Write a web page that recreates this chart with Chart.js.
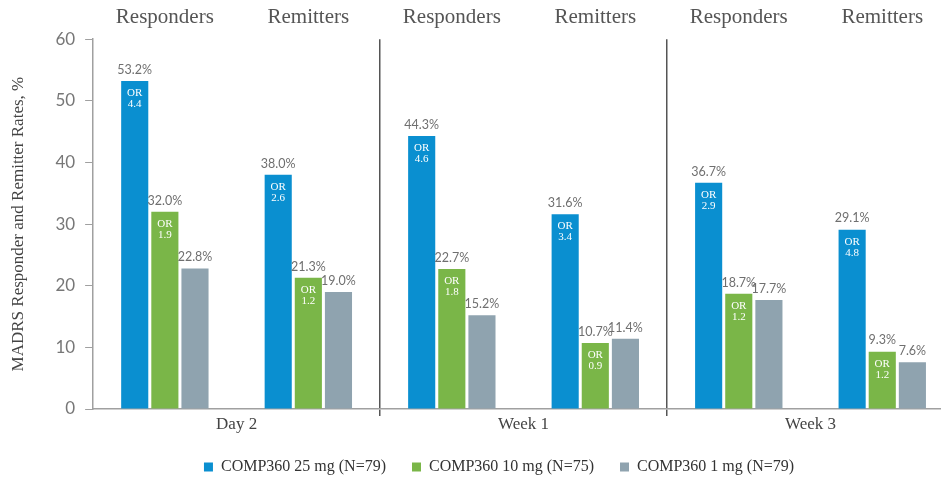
<!DOCTYPE html>
<html lang="en">
<head>
    <meta charset="UTF-8" />
    <title>MADRS Responder and Remitter Rates</title>
    <script src="https://cdn.jsdelivr.net/npm/chart.js"></script>
    <style>
        html, body { margin: 0; padding: 0; background: #fff; overflow: hidden; }
    </style>
</head>
<body>
    <canvas id="madrsChart" width="960" height="479"></canvas>

    <script>
        const categories = ['Responders', 'Remitters', 'Responders', 'Remitters', 'Responders', 'Remitters'];
        const periods = ['Day 2', 'Week 1', 'Week 3'];
        const dose25 = [53.2, 38.0, 44.3, 31.6, 36.7, 29.1];
        const dose10 = [32.0, 21.3, 22.7, 10.7, 18.7, 9.3];
        const dose1 = [22.8, 19.0, 15.2, 11.4, 17.7, 7.6];
        // odds ratios printed inside the bars
        const or25 = ['4.4', '2.6', '4.6', '3.4', '2.9', '4.8'];
        const or10 = ['1.9', '1.2', '1.8', '0.9', '1.2', '1.2'];
        const yTicks = [0, 10, 20, 30, 40, 50, 60];

        const serif = '"Liberation Serif", "Times New Roman", serif';

        // percentage above each bar, "OR x.x" inside the top of the bar
        const barLabels = {
            id: 'barLabels',
            afterDatasetsDraw(chart) {
                const ctx = chart.ctx;
                ctx.save();
                ctx.textAlign = 'center';
                chart.data.datasets.forEach((ds, i) => {
                    chart.getDatasetMeta(i).data.forEach((bar, j) => {
                        ctx.fillStyle = '#6f6f6f';
                        ctx.font = '12.5px Lato';
                        ctx.textBaseline = 'bottom';
                        ctx.fillText(ds.data[j].toFixed(1) + '%', bar.x, bar.y - 5);
                        if (ds.oddsRatios) {
                            ctx.fillStyle = '#fff';
                            ctx.font = '11px ' + serif;
                            ctx.textBaseline = 'middle';
                            ctx.fillText('OR', bar.x, bar.y + 12);
                            ctx.fillText(ds.oddsRatios[j], bar.x, bar.y + 23);
                        }
                    });
                });
                ctx.restore();
            }
        };

        // legend sits a little right of the canvas centre in the original
        const legendShift = {
            id: 'legendShift',
            afterLayout(chart) {
                chart.legend.left += 22;
                chart.legend.right += 22;
            }
        };

        new Chart(document.getElementById('madrsChart'), {
            type: 'bar',
            data: {
                labels: categories,
                datasets: [
                    { label: 'COMP360 25 mg (N=79)', data: dose25, oddsRatios: or25, backgroundColor: '#0a8fd0' },
                    { label: 'COMP360 10 mg (N=75)', data: dose10, oddsRatios: or10, backgroundColor: '#7ab648' },
                    { label: 'COMP360 1 mg (N=79)', data: dose1, backgroundColor: '#8fa3af' }
                ]
            },
            options: {
                responsive: false,
                animation: false,
                layout: { padding: { top: -4, right: 6, bottom: -6, left: 0 } },
                datasets: { bar: { categoryPercentage: 0.63, barPercentage: 0.9 } },
                plugins: {
                    legend: {
                        position: 'bottom',
                        labels: {
                            boxWidth: 9,
                            boxHeight: 9,
                            padding: 26,
                            color: '#333',
                            font: { family: serif, size: 16 }
                        }
                    },
                    tooltip: { enabled: false }
                },
                scales: {
                    x: {
                        position: 'top',
                        grid: { display: false, drawTicks: false, tickLength: 0 },
                        border: { display: false },
                        ticks: { padding: 9, color: '#555', font: { family: serif, size: 21 } }
                    },
                    x2: {
                        type: 'category',
                        labels: periods,
                        position: 'bottom',
                        offset: true,
                        grid: {
                            offset: true,
                            tickLength: 7,
                            lineWidth: 1.5,
                            color: ctx => ctx.index === 0 ? 'rgba(0,0,0,0)' : '#555'
                        },
                        border: { color: '#a0a0a0', width: 1.5 },
                        ticks: { padding: 0, color: '#444', font: { family: serif, size: 17, lineHeight: 1 } }
                    },
                    y: {
                        min: 0,
                        max: 60,
                        afterBuildTicks: scale => { scale.ticks = yTicks.map(v => ({ value: v })); },
                        grid: { drawOnChartArea: false, tickLength: 8, color: '#a0a0a0' },
                        border: { color: '#a0a0a0', width: 1.5 },
                        ticks: { padding: 10, color: '#777', font: { family: 'Lato', size: 17 } },
                        title: {
                            display: true,
                            text: 'MADRS Responder and Remitter Rates, %',
                            color: '#444',
                            font: { family: serif, size: 17 },
                            padding: { top: 8, bottom: 17 }
                        }
                    }
                }
            },
            plugins: [barLabels, legendShift]
        });
    </script>
</body>
</html>
